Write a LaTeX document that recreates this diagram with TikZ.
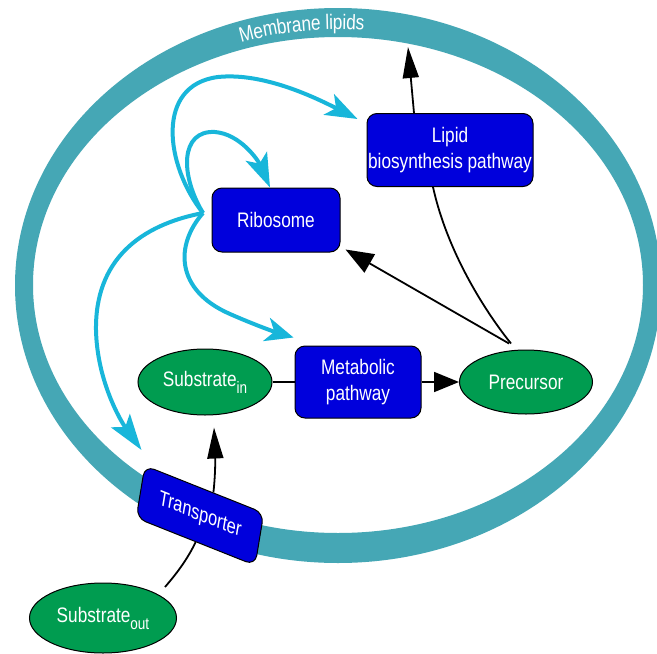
\documentclass[tikz,border=0pt]{standalone}
\usepackage{fontspec}
\setmainfont[FakeStretch=0.82]{Liberation Sans}
\usetikzlibrary{shapes.geometric,arrows.meta,calc,decorations.text}
\definecolor{ringc}{HTML}{45A7B5}
\definecolor{cyanc}{HTML}{18B6DA}
\definecolor{boxblue}{HTML}{0000DC}
\definecolor{elgreen}{HTML}{009C50}
\newcommand\lblfont{\fontsize{21}{26.5}\selectfont}
\newcommand\subfont{\fontsize{16.5}{16.5}\selectfont}
\newcommand\sbs[1]{\raisebox{-7pt}{\subfont #1}}
\begin{document}
\begin{tikzpicture}[x=1pt,y=-1pt,
  bluebox/.style={draw=black, line width=1pt, fill=boxblue, rounded corners=10pt,
    text=white, font=\lblfont, align=center, inner sep=0pt},
  greenel/.style={ellipse, draw=black, line width=1pt, fill=elgreen,
    text=white, font=\lblfont, inner sep=0pt},
  cyanarrow/.style={draw=cyanc, line width=4pt},
  blkline/.style={draw=black, line width=1.8pt}]
\useasboundingbox (0,0) rectangle (657,654);
\fill[white] (0,0) rectangle (657,654);
% membrane ring
\fill[ringc, even odd rule] (338,285.5) ellipse [x radius=323, y radius=277.5]
  (338,285) ellipse [x radius=305, y radius=248];
\path[decorate, decoration={text along path, text={|\lblfont|Membrane lipids},
  text align=center, raise=-7.5pt, text color=white}]
  plot[smooth, domain=130:64, samples=40] ({338+314*cos(\x)},{285-263*sin(\x)});
% nodes
\node[bluebox, minimum width=166pt, minimum height=73pt] (lip) at (450,150) {Lipid\\biosynthesis pathway};
\node[bluebox, minimum width=128pt, minimum height=64pt] (rib) at (276,220) {Ribosome};
\node[bluebox, minimum width=126pt, minimum height=72pt] (met) at (358,382) {Metabolic\\pathway};
\node[greenel, minimum width=134pt, minimum height=66pt] (sin) at (205,382) {Substrate\sbs{in}};
\node[greenel, minimum width=133pt, minimum height=64pt] (prec) at (526,382) {Precursor};
\node[greenel, minimum width=147pt, minimum height=70pt] (sout) at (103,618) {Substrate\sbs{out}};
\node[bluebox, minimum width=128pt, minimum height=53pt,
  cm={0.929,-0.370,0.163,0.987,(0,0)}] (tr) at (200,515.5) {Transporter};
\coordinate (hub) at (203,213);
\coordinate (memtop) at (408,47);
% cyan regulation arrows
\draw[cyanarrow, -{Stealth[length=32pt,width=23pt,inset=8pt]}]
  (hub) .. controls (165,165) and (155,85) .. (218,77)
  .. controls (265,72) and (320,100) .. ($(lip.north west)+(-9,6)$);
\draw[cyanarrow, -{Stealth[length=34pt,width=23pt,inset=8pt]}]
  (hub) .. controls (180,175) and (180,130) .. (215,132)
  .. controls (240,134) and (258,160) .. ($(rib.north)+(-6,0)$);
\draw[cyanarrow, -{Stealth[length=28pt,width=24pt,inset=8pt]}]
  (hub) .. controls (175,245) and (175,290) .. (230,314)
  .. controls (255,325) and (275,332) .. ($(met.north west)+(-1,-8)$);
\draw[cyanarrow, -{Stealth[length=36pt,width=23pt,inset=8pt]}]
  (hub) .. controls (140,225) and (95,260) .. (96,330)
  .. controls (97,380) and (120,420) .. ($(tr.north west)+(-3,-15)$);
% black connectors
\draw[blkline, -{Stealth[length=31pt,width=16pt,inset=0pt]}]
  ($(lip.north)+(-36,0)$) -- (memtop);
\draw[blkline] ($(prec.north)+(-15,-6)$) .. controls (488,315) and (448,255) .. ($(lip.south)+(-17,0)$);
\draw[blkline, -{Stealth[length=28pt,width=21pt,inset=0pt]}]
  ($(prec.north)+(-17,-6)$) -- ($(rib.south east)+(5,-3)$);
\draw[blkline] (sin.east) -- (met.west);
\draw[blkline, -{Stealth[length=25pt,width=20pt,inset=0pt]}] (met.east) -- (prec.west);
\draw[blkline, -{Stealth[length=31pt,width=16pt,inset=0pt]}]
  ($(tr.north)+(9,3.6)$) .. controls (216,470) and (215,450) .. ($(sin.south)+(9,12)$);
\draw[blkline] ($(sout.center)+(62,-31)$) .. controls (178,572) and (188,558) .. (tr.south);
\end{tikzpicture}
\end{document}
